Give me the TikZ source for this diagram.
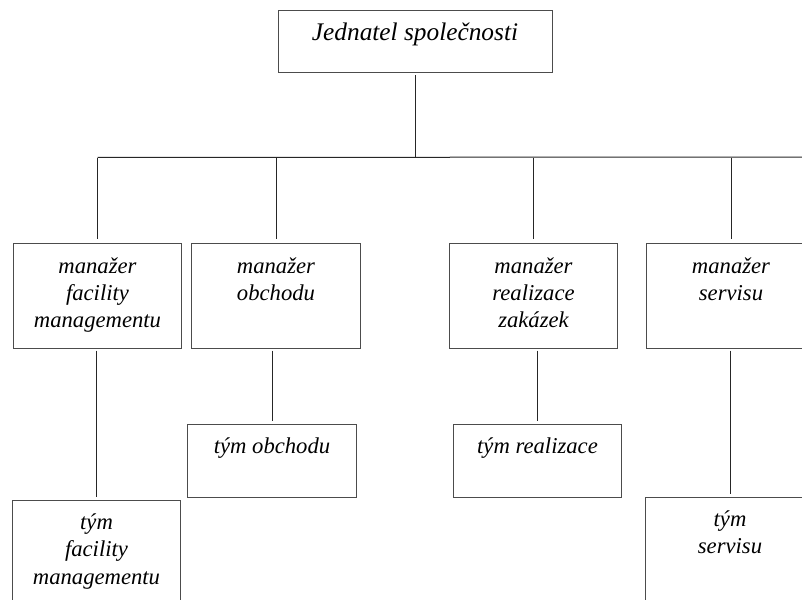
\documentclass[tikz,border=0pt]{standalone}
\usepackage{fontspec}
\setmainfont{Liberation Serif}
\tikzset{
box/.style={draw=black!70,line width=0.75pt,inner sep=0,minimum width=126.5pt,minimum height=78.75pt},
lbl/.style={anchor=north,align=center,inner sep=0,font=\fontsize{17}{20.5}\selectfont\itshape},
ln/.style={draw=black!85,line width=0.75pt}
}
\begin{document}
\begin{tikzpicture}[x=0.75pt,y=-0.75pt]
\useasboundingbox(0,0)rectangle(802,599);
\clip(0,0)rectangle(802,599);
% vedeni
\node[box,minimum width=205.5pt,minimum height=46.5pt](jed)at(415,42){};
\node[lbl,font=\fontsize{19}{23}\selectfont\itshape](jedt)at([yshift=-9pt]jed.north){Jednatel společnosti};
% manazeri
\node[box](mfm)at(97.5,295.5){};
\node[box](mob)at(276,295.5){};
\node[box](mre)at(533.5,295.5){};
\node[box](mse)at(731,295.5){};
\node[lbl](mfmt)at([yshift=-11pt]mfm.north){manažer\\facility\\managementu};
\node[lbl](mobt)at([yshift=-11pt]mob.north){manažer\\obchodu};
\node[lbl](mret)at([yshift=-11pt]mre.north){manažer\\realizace\\zakázek};
\node[lbl](mset)at([yshift=-11pt]mse.north){manažer\\servisu};
% tymy
\node[box,minimum height=54.75pt](tob)at(272,460.5){};
\node[box,minimum height=54.75pt](tre)at(537.5,460.5){};
\node[box](tfm)at(96.5,552.5){};
\node[box](tse)at(730,549.5){};
\node[lbl](tobt)at([yshift=-10.5pt]tob.north){tým obchodu};
\node[lbl](tret)at([yshift=-10.5pt]tre.north){tým realizace};
\node[lbl](tfmt)at([yshift=-10.5pt]tfm.north){tým\\facility\\managementu};
\node[lbl](tset)at([yshift=-10.5pt]tse.north){tým\\servisu};
% spojnice
\draw[ln,shorten <=1.5pt](jed.south)--++(0,84)coordinate(J);
\coordinate(E)at(802,157);
\draw[ln](J-|mfm.north)--(E);
\foreach \m in {mfm,mob,mre,mse}\draw[ln,shorten >=3pt](J-|\m.north)--(\m.north);
\foreach \m/\t in {mfm/tfm,mob/tob,mre/tre,mse/tse}\draw[ln,shorten <=1.5pt,shorten >=2pt](\m.south-|\t.north)--(\t.north);
\end{tikzpicture}
\end{document}
